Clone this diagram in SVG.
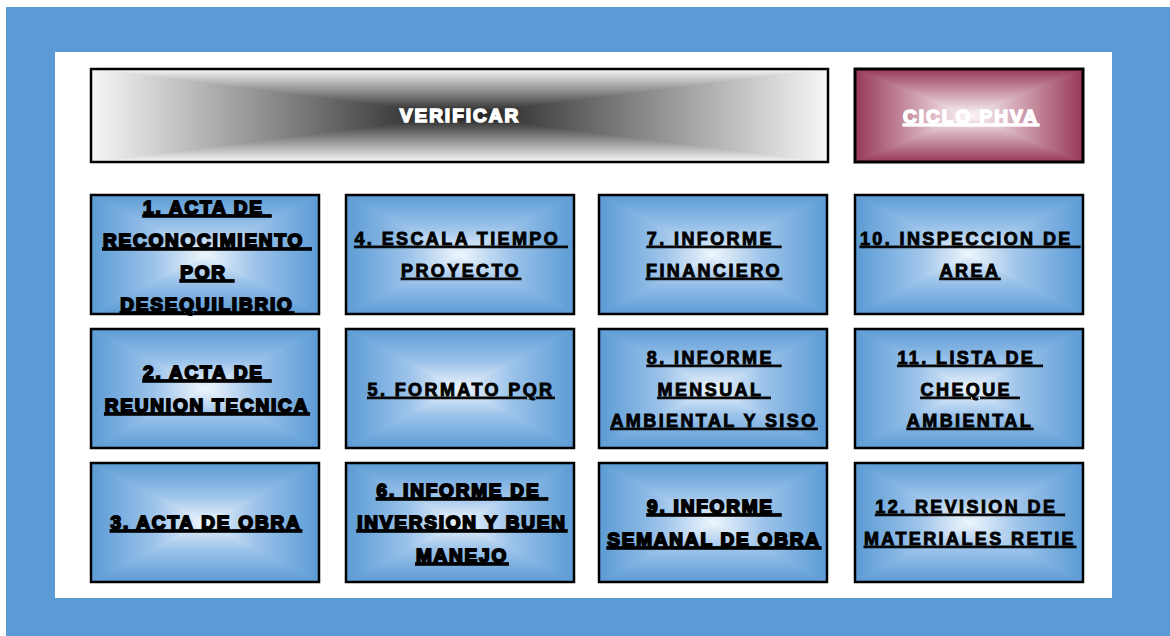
<svg xmlns="http://www.w3.org/2000/svg" width="1170" height="636" viewBox="0 0 1170 636">
<defs>
<linearGradient id="bL" x1="0" y1="0" x2="1" y2="0"><stop offset="0" stop-color="#5b9bd5"/><stop offset="0.55" stop-color="#9cc3ea"/><stop offset="1" stop-color="#eef5fc"/></linearGradient>
<linearGradient id="bR" x1="1" y1="0" x2="0" y2="0"><stop offset="0" stop-color="#5b9bd5"/><stop offset="0.55" stop-color="#9cc3ea"/><stop offset="1" stop-color="#eef5fc"/></linearGradient>
<linearGradient id="bT" x1="0" y1="0" x2="0" y2="1"><stop offset="0" stop-color="#5b9bd5"/><stop offset="0.55" stop-color="#9cc3ea"/><stop offset="1" stop-color="#eef5fc"/></linearGradient>
<linearGradient id="bB" x1="0" y1="1" x2="0" y2="0"><stop offset="0" stop-color="#5b9bd5"/><stop offset="0.55" stop-color="#9cc3ea"/><stop offset="1" stop-color="#eef5fc"/></linearGradient>
<linearGradient id="kL" x1="0" y1="0" x2="1" y2="0"><stop offset="0" stop-color="#f7f7f7"/><stop offset="1" stop-color="#1a1a1a"/></linearGradient>
<linearGradient id="kR" x1="1" y1="0" x2="0" y2="0"><stop offset="0" stop-color="#f7f7f7"/><stop offset="1" stop-color="#1a1a1a"/></linearGradient>
<linearGradient id="kT" x1="0" y1="0" x2="0" y2="1"><stop offset="0" stop-color="#f7f7f7"/><stop offset="1" stop-color="#1a1a1a"/></linearGradient>
<linearGradient id="kB" x1="0" y1="1" x2="0" y2="0"><stop offset="0" stop-color="#f7f7f7"/><stop offset="1" stop-color="#1a1a1a"/></linearGradient>
<linearGradient id="pL" x1="0" y1="0" x2="1" y2="0"><stop offset="0" stop-color="#983957"/><stop offset="1" stop-color="#fdf8fa"/></linearGradient>
<linearGradient id="pR" x1="1" y1="0" x2="0" y2="0"><stop offset="0" stop-color="#983957"/><stop offset="1" stop-color="#fdf8fa"/></linearGradient>
<linearGradient id="pT" x1="0" y1="0" x2="0" y2="1"><stop offset="0" stop-color="#983957"/><stop offset="1" stop-color="#fdf8fa"/></linearGradient>
<linearGradient id="pB" x1="0" y1="1" x2="0" y2="0"><stop offset="0" stop-color="#983957"/><stop offset="1" stop-color="#fdf8fa"/></linearGradient>
</defs>
<style>
.bd{fill:none;stroke:#000;stroke-width:2.5}
path{stroke-width:1.2}
text{font-family:"Liberation Sans",Arial,sans-serif;font-weight:bold;text-anchor:middle;text-decoration:underline;white-space:pre}
.h{font-size:19px;fill:#000;stroke:#000;stroke-width:1.8;letter-spacing:1.8px}
.s{font-size:18px;fill:#000;stroke:#000;stroke-width:0.9;letter-spacing:2.4px}
.w{font-size:19px;fill:#fff;stroke:#fff;stroke-width:1.6;letter-spacing:2px}
</style>
<rect x="6" y="7" width="1164" height="629" fill="#5b9bd5"/>
<rect x="55" y="52" width="1057" height="546" fill="#fff"/>

<g id="verificar">
<path d="M91 69L459.5 115.5L91 162Z" fill="url(#kL)" stroke="url(#kL)"/>
<path d="M828 69L459.5 115.5L828 162Z" fill="url(#kR)" stroke="url(#kR)"/>
<path d="M91 69L828 69L459.5 115.5Z" fill="url(#kT)" stroke="url(#kT)"/>
<path d="M91 162L828 162L459.5 115.5Z" fill="url(#kB)" stroke="url(#kB)"/>
<rect x="91" y="69" width="737" height="93" class="bd"/>
<text class="w" x="460" y="122" style="text-decoration:none">VERIFICAR</text>
</g>

<g id="ciclo">
<path d="M855 69L969 115.5L855 162Z" fill="url(#pL)" stroke="url(#pL)"/>
<path d="M1083 69L969 115.5L1083 162Z" fill="url(#pR)" stroke="url(#pR)"/>
<path d="M855 69L1083 69L969 115.5Z" fill="url(#pT)" stroke="url(#pT)"/>
<path d="M855 162L1083 162L969 115.5Z" fill="url(#pB)" stroke="url(#pB)"/>
<rect x="855" y="69" width="228" height="93" fill="none" stroke="#000" stroke-width="3"/>
<text class="w" x="971" y="123">CICLO PHVA</text>
</g>

<g id="n1">
<path d="M91 195L205 254.5L91 314Z" fill="url(#bL)" stroke="url(#bL)"/><path d="M319 195L205 254.5L319 314Z" fill="url(#bR)" stroke="url(#bR)"/><path d="M91 195L319 195L205 254.5Z" fill="url(#bT)" stroke="url(#bT)"/><path d="M91 314L319 314L205 254.5Z" fill="url(#bB)" stroke="url(#bB)"/>
<rect x="91" y="195" width="228" height="119" class="bd"/>
<text class="h" xml:space="preserve"><tspan x="207" y="214">1. ACTA DE </tspan><tspan x="207" y="247">RECONOCIMIENTO </tspan><tspan x="207" y="279">POR </tspan><tspan x="207" y="311">DESEQUILIBRIO</tspan></text>
</g>
<g id="n4">
<path d="M346 195L460 254.5L346 314Z" fill="url(#bL)" stroke="url(#bL)"/><path d="M574 195L460 254.5L574 314Z" fill="url(#bR)" stroke="url(#bR)"/><path d="M346 195L574 195L460 254.5Z" fill="url(#bT)" stroke="url(#bT)"/><path d="M346 314L574 314L460 254.5Z" fill="url(#bB)" stroke="url(#bB)"/>
<rect x="346" y="195" width="228" height="119" class="bd"/>
<text class="s" xml:space="preserve"><tspan x="461" y="245">4. ESCALA TIEMPO </tspan><tspan x="461" y="277">PROYECTO</tspan></text>
</g>
<g id="n7">
<path d="M599 195L713 254.5L599 314Z" fill="url(#bL)" stroke="url(#bL)"/><path d="M827 195L713 254.5L827 314Z" fill="url(#bR)" stroke="url(#bR)"/><path d="M599 195L827 195L713 254.5Z" fill="url(#bT)" stroke="url(#bT)"/><path d="M599 314L827 314L713 254.5Z" fill="url(#bB)" stroke="url(#bB)"/>
<rect x="599" y="195" width="228" height="119" class="bd"/>
<text class="s" xml:space="preserve"><tspan x="714" y="245">7. INFORME </tspan><tspan x="714" y="277">FINANCIERO</tspan></text>
</g>
<g id="n10">
<path d="M855 195L969 254.5L855 314Z" fill="url(#bL)" stroke="url(#bL)"/><path d="M1083 195L969 254.5L1083 314Z" fill="url(#bR)" stroke="url(#bR)"/><path d="M855 195L1083 195L969 254.5Z" fill="url(#bT)" stroke="url(#bT)"/><path d="M855 314L1083 314L969 254.5Z" fill="url(#bB)" stroke="url(#bB)"/>
<rect x="855" y="195" width="228" height="119" class="bd"/>
<text class="s" xml:space="preserve"><tspan x="970" y="245">10. INSPECCION DE </tspan><tspan x="970" y="277">AREA</tspan></text>
</g>

<g id="n2">
<path d="M91 329L205 388.5L91 448Z" fill="url(#bL)" stroke="url(#bL)"/><path d="M319 329L205 388.5L319 448Z" fill="url(#bR)" stroke="url(#bR)"/><path d="M91 329L319 329L205 388.5Z" fill="url(#bT)" stroke="url(#bT)"/><path d="M91 448L319 448L205 388.5Z" fill="url(#bB)" stroke="url(#bB)"/>
<rect x="91" y="329" width="228" height="119" class="bd"/>
<text class="h" xml:space="preserve"><tspan x="207" y="379">2. ACTA DE </tspan><tspan x="207" y="412">REUNION TECNICA</tspan></text>
</g>
<g id="n5">
<path d="M346 329L460 388.5L346 448Z" fill="url(#bL)" stroke="url(#bL)"/><path d="M574 329L460 388.5L574 448Z" fill="url(#bR)" stroke="url(#bR)"/><path d="M346 329L574 329L460 388.5Z" fill="url(#bT)" stroke="url(#bT)"/><path d="M346 448L574 448L460 388.5Z" fill="url(#bB)" stroke="url(#bB)"/>
<rect x="346" y="329" width="228" height="119" class="bd"/>
<text class="s" x="461" y="396">5. FORMATO PQR</text>
</g>
<g id="n8">
<path d="M599 329L713 388.5L599 448Z" fill="url(#bL)" stroke="url(#bL)"/><path d="M827 329L713 388.5L827 448Z" fill="url(#bR)" stroke="url(#bR)"/><path d="M599 329L827 329L713 388.5Z" fill="url(#bT)" stroke="url(#bT)"/><path d="M599 448L827 448L713 388.5Z" fill="url(#bB)" stroke="url(#bB)"/>
<rect x="599" y="329" width="228" height="119" class="bd"/>
<text class="s" xml:space="preserve"><tspan x="714" y="364">8. INFORME </tspan><tspan x="714" y="396">MENSUAL </tspan><tspan x="714" y="427">AMBIENTAL Y SISO</tspan></text>
</g>
<g id="n11">
<path d="M855 329L969 388.5L855 448Z" fill="url(#bL)" stroke="url(#bL)"/><path d="M1083 329L969 388.5L1083 448Z" fill="url(#bR)" stroke="url(#bR)"/><path d="M855 329L1083 329L969 388.5Z" fill="url(#bT)" stroke="url(#bT)"/><path d="M855 448L1083 448L969 388.5Z" fill="url(#bB)" stroke="url(#bB)"/>
<rect x="855" y="329" width="228" height="119" class="bd"/>
<text class="s" xml:space="preserve"><tspan x="970" y="364">11. LISTA DE </tspan><tspan x="970" y="396">CHEQUE </tspan><tspan x="970" y="427">AMBIENTAL</tspan></text>
</g>

<g id="n3">
<path d="M91 463L205 522.5L91 582Z" fill="url(#bL)" stroke="url(#bL)"/><path d="M319 463L205 522.5L319 582Z" fill="url(#bR)" stroke="url(#bR)"/><path d="M91 463L319 463L205 522.5Z" fill="url(#bT)" stroke="url(#bT)"/><path d="M91 582L319 582L205 522.5Z" fill="url(#bB)" stroke="url(#bB)"/>
<rect x="91" y="463" width="228" height="119" class="bd"/>
<text class="h" x="206" y="529">3. ACTA DE OBRA</text>
</g>
<g id="n6">
<path d="M346 463L460 522.5L346 582Z" fill="url(#bL)" stroke="url(#bL)"/><path d="M574 463L460 522.5L574 582Z" fill="url(#bR)" stroke="url(#bR)"/><path d="M346 463L574 463L460 522.5Z" fill="url(#bT)" stroke="url(#bT)"/><path d="M346 582L574 582L460 522.5Z" fill="url(#bB)" stroke="url(#bB)"/>
<rect x="346" y="463" width="228" height="119" class="bd"/>
<text class="h" xml:space="preserve"><tspan x="462" y="497">6. INFORME DE </tspan><tspan x="462" y="529">INVERSION Y BUEN</tspan><tspan x="462" y="562">MANEJO</tspan></text>
</g>
<g id="n9">
<path d="M599 463L713 522.5L599 582Z" fill="url(#bL)" stroke="url(#bL)"/><path d="M827 463L713 522.5L827 582Z" fill="url(#bR)" stroke="url(#bR)"/><path d="M599 463L827 463L713 522.5Z" fill="url(#bT)" stroke="url(#bT)"/><path d="M599 582L827 582L713 522.5Z" fill="url(#bB)" stroke="url(#bB)"/>
<rect x="599" y="463" width="228" height="119" class="bd"/>
<text class="h" xml:space="preserve"><tspan x="714" y="513">9. INFORME </tspan><tspan x="714" y="546">SEMANAL DE OBRA</tspan></text>
</g>
<g id="n12">
<path d="M855 463L969 522.5L855 582Z" fill="url(#bL)" stroke="url(#bL)"/><path d="M1083 463L969 522.5L1083 582Z" fill="url(#bR)" stroke="url(#bR)"/><path d="M855 463L1083 463L969 522.5Z" fill="url(#bT)" stroke="url(#bT)"/><path d="M855 582L1083 582L969 522.5Z" fill="url(#bB)" stroke="url(#bB)"/>
<rect x="855" y="463" width="228" height="119" class="bd"/>
<text class="s" xml:space="preserve"><tspan x="970" y="513">12. REVISION DE </tspan><tspan x="970" y="545">MATERIALES RETIE</tspan></text>
</g>
<g id="connectors"/>
</svg>
